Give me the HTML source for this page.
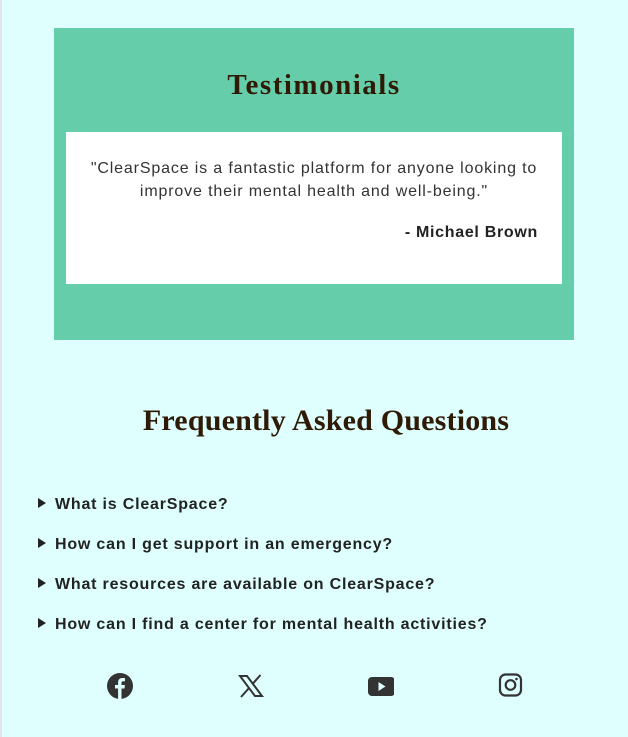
<!DOCTYPE html>
<html><head><meta charset="utf-8">
<style>
*{margin:0;padding:0;box-sizing:border-box}
body{width:628px;height:737px;background:#dfffff;position:relative;overflow:hidden;font-family:"Liberation Sans",sans-serif}
.bl{position:absolute;left:0;top:0;width:2px;height:737px;background:#e2e4ec}
.green{position:absolute;left:54px;top:28px;width:520px;height:312px;background:#66cdaa}
h2{font-family:"Liberation Serif","DejaVu Serif",serif;font-weight:bold;color:#2e1a05;text-align:center;position:absolute;left:0;width:100%}
.card{position:absolute;left:12px;top:104px;width:496px;height:152px;background:#fff}
.q{position:absolute;left:10px;width:476px;text-align:center;font-size:16px;line-height:23px;color:#333;top:25px;letter-spacing:0.85px}
.a{position:absolute;right:24px;top:92px;font-weight:bold;font-size:16px;color:#222;letter-spacing:0.7px}
.faq{position:absolute;left:38px;font-size:16px;font-weight:bold;color:#222;letter-spacing:0.8px}
.faq span.t{display:inline-block;width:0;height:0;border-left:8px solid #222;border-top:5px solid transparent;border-bottom:5px solid transparent;margin-right:9px;vertical-align:1px}
.ic{position:absolute;top:673px;width:26px;height:26px}
</style></head><body>
<div class="bl"></div>
<div class="green">
<h2 style="top:41px;font-size:29px;letter-spacing:1.5px">Testimonials</h2>
<div class="card">
<div class="q">"ClearSpace is a fantastic platform for anyone looking to improve their mental health and well-being."</div>
<div class="a">- Michael Brown</div>
</div></div>
<h2 style="top:404px;font-size:30px;letter-spacing:0.2px;left:12px">Frequently Asked Questions</h2>
<div class="faq" style="top:496px"><span class="t"></span>What is ClearSpace?</div>
<div class="faq" style="top:536px"><span class="t"></span>How can I get support in an emergency?</div>
<div class="faq" style="top:576px"><span class="t"></span>What resources are available on ClearSpace?</div>
<div class="faq" style="top:616px"><span class="t"></span>How can I find a center for mental health activities?</div>
<svg class="ic" style="left:107px" viewBox="0 0 26 26"><circle cx="13" cy="13" r="13" fill="#333"/><path d="M14.5 26V15.5h3l.5-3.5h-3.5V10c0-1 .4-1.8 1.8-1.8H18V5.2c-.5-.1-1.5-.2-2.6-.2-2.6 0-4.3 1.6-4.3 4.5V12H8v3.5h3.1V26z" fill="#dfffff"/></svg>
<svg class="ic" style="left:238px" viewBox="0 0 26 26"><path d="M2 3h7l15 20h-7z" fill="none" stroke="#333" stroke-width="2"/><path d="M3 24L11.5 14.5M14.5 11L22.5 2" stroke="#333" stroke-width="2"/></svg>
<svg class="ic" style="left:368px" viewBox="0 0 26 26"><rect x="0" y="4" width="27" height="19" rx="4" fill="#333"/><path d="M10.5 9v9l7-4.5z" fill="#dfffff"/></svg>
<svg class="ic" style="left:498px" viewBox="0 0 26 26"><rect x="2" y="1.5" width="21" height="21" rx="5.5" fill="none" stroke="#333" stroke-width="2.2"/><circle cx="12.5" cy="12" r="4.8" fill="none" stroke="#333" stroke-width="2.2"/><circle cx="18.5" cy="6" r="1.3" fill="#333"/></svg>
</body></html>
